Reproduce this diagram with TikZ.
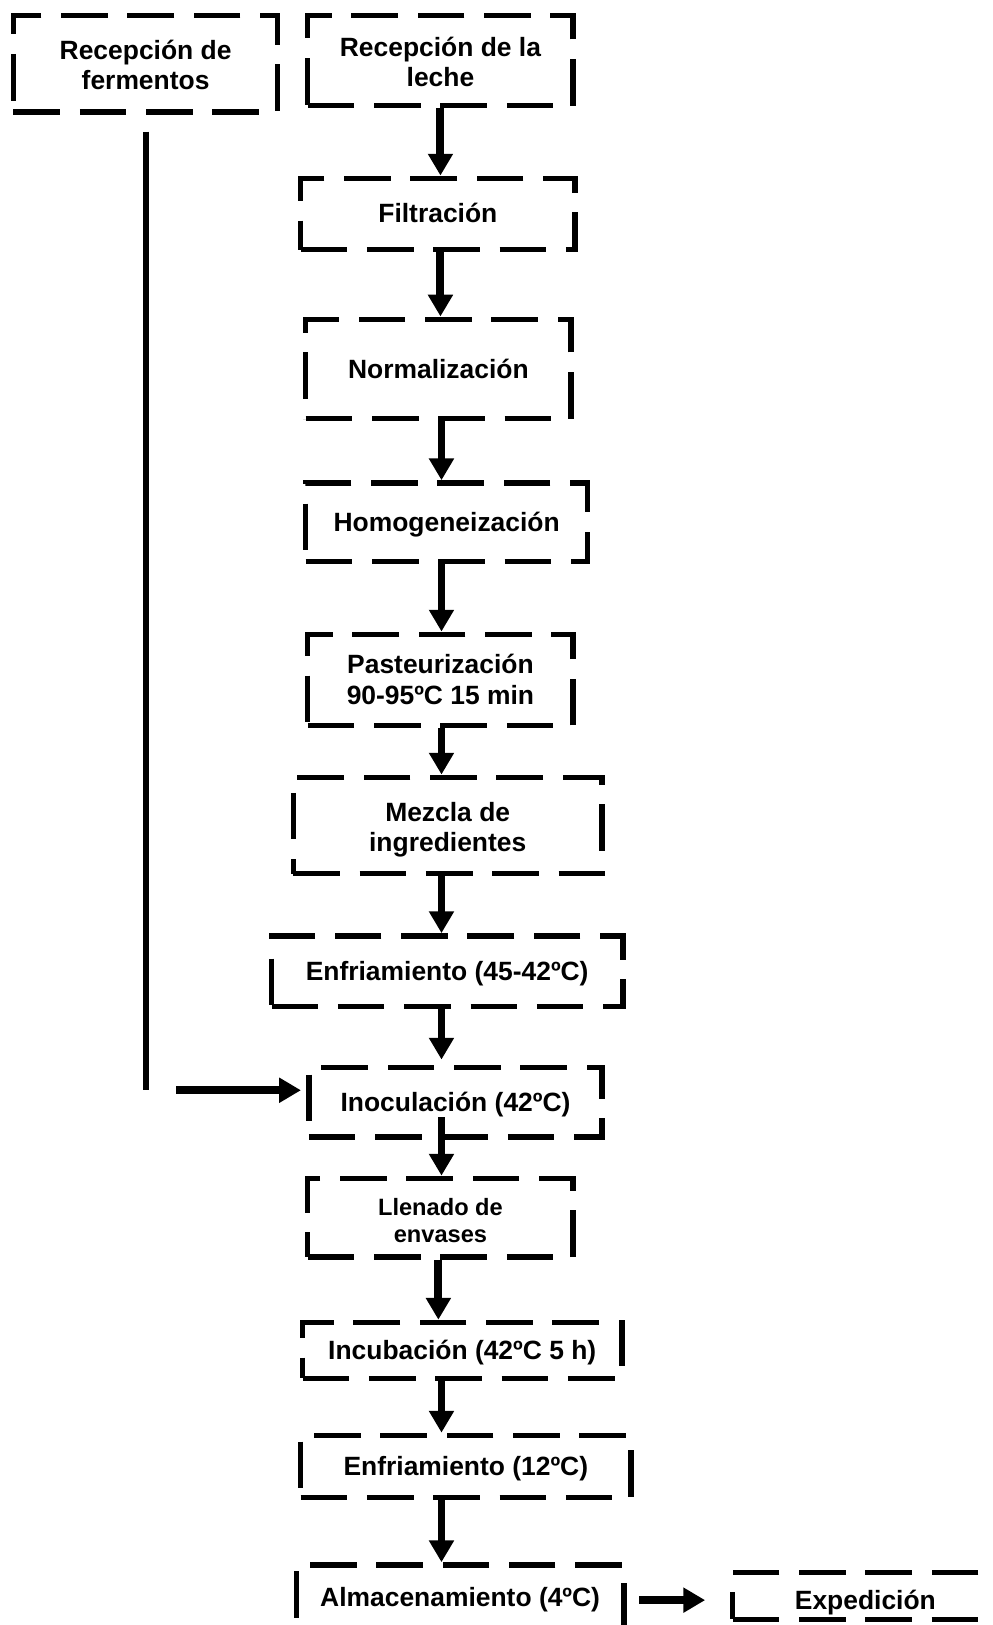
\documentclass[tikz,border=0pt]{standalone}
\usepackage{fontspec}
\setmainfont{Liberation Sans}
\usetikzlibrary{arrows.meta}
\newcommand\tx[2][2.5pt]{\raisebox{-#1}[\height][\depth]{\begin{tabular}{@{}c@{}}#2\end{tabular}}}
\begin{document}
\begin{tikzpicture}[x=1pt,y=-1pt,
 box/.style={draw, line width=5.2pt, dash pattern=on 45pt off 19pt, inner sep=0pt,
   font=\fontsize{25.5}{29}\selectfont\bfseries},
 smallbox/.style={box, font=\fontsize{22.8}{25.7}\selectfont\bfseries},
 arr/.style={line width=7.7pt, -{Triangle[width=23pt,length=21pt]}},
 feedline/.style={line width=5.5pt},
]
\useasboundingbox (0,0) rectangle (958,1568);
\clip (0,0) rectangle (958,1568);
\coordinate (ax) at (425,0);
\node[box, minimum width=255pt, minimum height=93pt] (ferm) at (140.5,61.5) {\tx[4.5pt]{Recepción de\\fermentos}};
\node[box, minimum width=256pt, minimum height=87pt] (leche) at (425,58.5) {\tx[5pt]{Recepción de la\\leche}};
\node[box, minimum width=265pt, minimum height=69pt] (filtr) at (422.5,206.5) {\tx{Filtración}};
\node[box, minimum width=256pt, minimum height=96pt] (norm) at (423,356) {\tx[3pt]{Normalización}};
\node[box, minimum width=272pt, minimum height=76pt] (homog) at (431,504) {\tx[3pt]{Homogeneización}};
\node[box, minimum width=256pt, minimum height=88pt] (past) at (425,656) {\tx[3pt]{Pasteurización\\90-95ºC 15 min}};
\node[box, minimum width=298pt, minimum height=93pt] (mezcla) at (432,796.5) {\tx[4.5pt]{Mezcla de\\ingredientes}};
\node[box, minimum width=339pt, minimum height=68pt] (enfa) at (431.5,937) {\tx[3.5pt]{Enfriamiento (45-42ºC)}};
\node[box, minimum width=283pt, minimum height=67pt] (inoc) at (439.5,1063.5) {\tx[3pt]{Inoculación (42ºC)}};
\node[smallbox, minimum width=256pt, minimum height=76pt] (llen) at (425,1175) {\tx[5.5pt]{Llenado de\\envases}};
\node[box, minimum width=308pt, minimum height=54pt] (incub) at (446,1303) {\tx[3pt]{Incubación (42ºC 5 h)}};
\node[box, minimum width=319pt, minimum height=60pt] (enfb) at (449.5,1415) {\tx{Enfriamiento (12ºC)}};
\node[box, minimum width=316pt, minimum height=66pt] (almac) at (444,1543) {\tx[1.5pt]{Almacenamiento (4ºC)}};
\node[box, minimum width=256pt, minimum height=45pt] (exped) at (835,1540) {\tx[7pt]{Expedición}};
% main flow
\draw[arr] (leche.south -| ax) -- (filtr.north -| ax);
\draw[arr] (filtr.south -| ax) -- (norm.north -| ax);
\draw[arr] ([xshift=1pt]norm.south -| ax) -- ([xshift=1pt]homog.north -| ax);
\draw[arr] ([xshift=1pt]homog.south -| ax) -- ([xshift=1pt]past.north -| ax);
\draw[arr] ([xshift=1pt]past.south -| ax) -- ([xshift=1pt]mezcla.north -| ax);
\draw[arr] ([xshift=1pt]mezcla.south -| ax) -- ([xshift=1pt]enfa.north -| ax);
\draw[arr] ([xshift=1pt]enfa.south -| ax) -- ([xshift=1pt,yshift=5pt]inoc.north -| ax);
\draw[arr] ([xshift=1pt,yshift=-14.5pt]inoc.center -| ax) -- ([xshift=1pt]llen.north -| ax);
\draw[arr] ([xshift=-2pt]llen.south -| ax) -- ([xshift=-2pt]incub.north -| ax);
\draw[arr] ([xshift=1pt]incub.south -| ax) -- ([xshift=1pt]enfb.north -| ax);
\draw[arr] ([xshift=1pt]enfb.south -| ax) -- ([xshift=1pt]almac.north -| ax);
\draw[arr] ([xshift=12pt,yshift=-1pt]almac.east) -- ([xshift=-24pt,yshift=-1pt]exped.west |- almac.east);
% fermentos feed
\coordinate (f1) at (141,127);
\coordinate (f2) at (141,1052);
\coordinate (f3) at (170,1052);
\draw[feedline] (f1) -- (f2);
\draw[arr] (f3) -- ([xshift=-5pt]inoc.west |- f3);
\end{tikzpicture}
\end{document}
